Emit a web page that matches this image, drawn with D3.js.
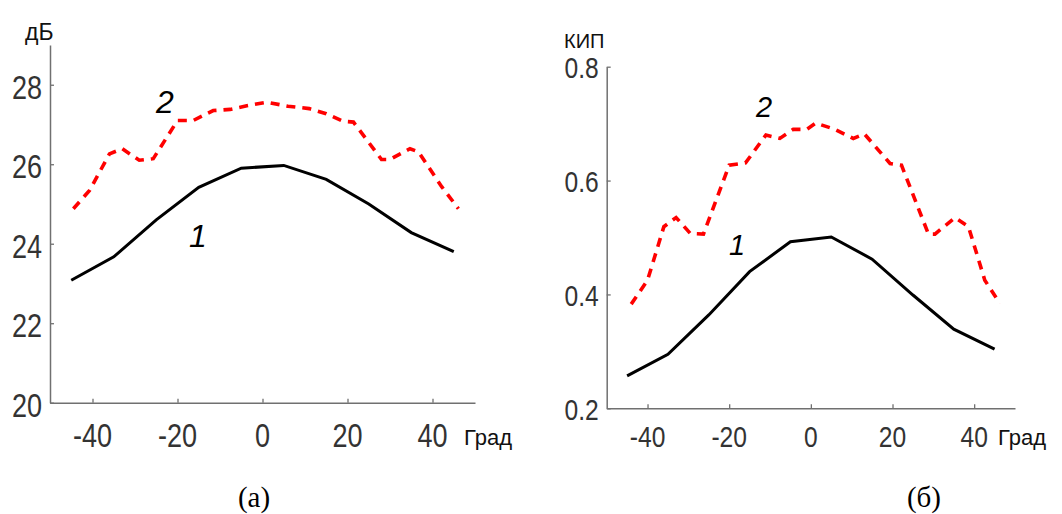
<!DOCTYPE html>
<html>
<head>
<meta charset="utf-8">
<script src="https://cdn.jsdelivr.net/npm/d3@7"></script>
<style>
  body { margin: 0; background: #fff; }
  svg { display: block; }
</style>
</head>
<body>
<svg id="chart" width="1062" height="514"></svg>
<script>
'use strict';

// углы для кривых 1 (шаг 10 град)
var angles = [-45, -35, -25, -15, -5, 5, 15, 25, 35, 45];

// (а) усиление, дБ
var gainCurve1 = [23.08, 23.67, 24.6, 25.42, 25.9, 25.97, 25.62, 25.0, 24.28, 23.8];
var gainAngles2 = [-44.5, -40.7, -36, -33, -29, -25.7, -20, -16.3, -11.6, -7.6, -3.7, 1, 6, 11, 15, 19, 21.4, 28, 30, 34.7, 36.7, 42.2, 46.1];
var gainCurve2 = [24.88, 25.34, 26.26, 26.39, 26.1, 26.14, 27.1, 27.1, 27.35, 27.38, 27.47, 27.56, 27.46, 27.4, 27.27, 27.08, 27.06, 26.12, 26.12, 26.39, 26.31, 25.43, 24.88];

// (б) КИП
var kipCurve1 = [0.257, 0.295, 0.364, 0.44, 0.4925, 0.501, 0.462, 0.399, 0.339, 0.304];
var kipAngles2 = [-44, -40, -36, -33, -29.5, -26.3, -20, -16, -11, -7.6, -4.3, -1, 1.2, 5.9, 10.4, 13.1, 19.4, 22.2, 28.8, 30.4, 35.3, 38.6, 42.6, 46.3];
var kipCurve2 = [0.383, 0.425, 0.519, 0.535, 0.507, 0.506, 0.627, 0.631, 0.68, 0.674, 0.69, 0.69, 0.701, 0.69, 0.674, 0.682, 0.63, 0.627, 0.506, 0.506, 0.535, 0.519, 0.425, 0.384];

var xTicks = [-40, -20, 0, 20, 40];
var gainTicks = [20, 22, 24, 26, 28];
var kipTicks = [0.2, 0.4, 0.6, 0.8];
var kipTickLabels = ['0.2', '0.4', '0.6', '0.8'];

var svg = d3.select('#chart');
var tickColor = '#333';
var axisColor = '#707070';
var narrow = 0.82;

function drawPanel(cfg) {
  var g = svg.append('g');
  var x = d3.scaleLinear().domain([-50, 50]).range([cfg.left, cfg.right]);
  var y = d3.scaleLinear().domain(cfg.yDomain).range([cfg.bottom, cfg.top]);

  // оси (засечки внутрь)
  var yAxis = g.append('g')
    .attr('transform', 'translate(' + cfg.left + ',0)')
    .call(d3.axisLeft(y).tickValues(cfg.yTicks).tickSizeInner(-4).tickSizeOuter(0).tickFormat(''));
  var xAxis = g.append('g')
    .attr('transform', 'translate(0,' + cfg.bottom + ')')
    .call(d3.axisBottom(x).tickValues(xTicks).tickSizeInner(-4).tickSizeOuter(0).tickFormat(''));
  [yAxis, xAxis].forEach(function(a) {
    a.select('.domain').attr('stroke', axisColor).attr('stroke-width', 1.5);
    a.selectAll('.tick line').attr('stroke', axisColor).attr('stroke-width', 1.3);
  });

  // подписи делений (узкий шрифт)
  g.append('g').selectAll('text')
    .data(cfg.yTicks)
    .enter().append('text')
    .attr('transform', function(d) {
      return 'translate(' + (cfg.left - 8) + ',' + (y(d) + cfg.yLabelDy) + ') scale(' + narrow + ',1)';
    })
    .attr('text-anchor', 'end')
    .style('font-family', 'Liberation Sans, Arial, sans-serif')
    .style('font-size', cfg.tickFont + 'px')
    .style('fill', tickColor)
    .text(function(d, i) { return cfg.yTickLabels[i]; });

  g.append('g').selectAll('text')
    .data(xTicks)
    .enter().append('text')
    .attr('transform', function(d) {
      return 'translate(' + x(d) + ',447) scale(' + narrow + ',1)';
    })
    .attr('text-anchor', 'middle')
    .style('font-family', 'Liberation Sans, Arial, sans-serif')
    .style('font-size', cfg.tickFont + 'px')
    .style('fill', tickColor)
    .text(function(d) { return String(d); });

  // кривая 1 — сплошная чёрная
  var line1 = d3.line()
    .x(function(d, i) { return x(angles[i]); })
    .y(function(d) { return y(d); });
  g.append('path')
    .datum(cfg.curve1)
    .attr('d', line1)
    .attr('fill', 'none')
    .attr('stroke', '#000')
    .attr('stroke-width', 3);

  // кривая 2 — красный пунктир
  var line2 = d3.line()
    .x(function(d, i) { return x(cfg.angles2[i]); })
    .y(function(d) { return y(d); });
  g.append('path')
    .datum(cfg.curve2)
    .attr('d', line2)
    .attr('fill', 'none')
    .attr('stroke', '#ff0000')
    .attr('stroke-width', 3.6)
    .attr('stroke-dasharray', '9,7');

  // подписи
  var sans = 'Liberation Sans, Arial, sans-serif';
  g.append('text').attr('x', cfg.unitX).attr('y', cfg.unitY)
    .style('font-family', sans).style('font-size', cfg.unitFont + 'px').style('fill', '#111')
    .text(cfg.unit);
  g.append('text').attr('x', cfg.gradX).attr('y', 445)
    .style('font-family', sans).style('font-size', '22px').style('fill', '#111')
    .text('Град');
  g.append('text').attr('x', cfg.lab2[0]).attr('y', cfg.lab2[1])
    .style('font-family', sans).style('font-style', 'italic').style('font-size', cfg.labFont + 'px')
    .text('2');
  g.append('text').attr('x', cfg.lab1[0]).attr('y', cfg.lab1[1])
    .style('font-family', sans).style('font-style', 'italic').style('font-size', cfg.labFont + 'px')
    .text('1');
  g.append('text').attr('x', cfg.captionX).attr('y', 507)
    .attr('text-anchor', 'middle')
    .style('font-family', 'Liberation Serif, Times New Roman, serif').style('font-size', '29px')
    .text(cfg.caption);
}

drawPanel({
  left: 50, right: 475, top: 45, bottom: 402.7,
  yDomain: [20, 29], yTicks: gainTicks, yTickLabels: gainTicks.map(String),
  yLabelDy: 14, tickFont: 33,
  curve1: gainCurve1, angles2: gainAngles2, curve2: gainCurve2,
  unit: 'дБ', unitX: 25, unitY: 40, unitFont: 23,
  gradX: 464, lab2: [156, 113], lab1: [189, 247], labFont: 32,
  captionX: 254, caption: '(а)'
});

drawPanel({
  left: 606.7, right: 1015, top: 66.7, bottom: 408.3,
  yDomain: [0.2, 0.8], yTicks: kipTicks, yTickLabels: kipTickLabels,
  yLabelDy: 11.5, tickFont: 30,
  curve1: kipCurve1, angles2: kipAngles2, curve2: kipCurve2,
  unit: 'КИП', unitX: 564, unitY: 48, unitFont: 20,
  gradX: 998, lab2: [756, 117], lab1: [729, 255], labFont: 29,
  captionX: 924, caption: '(б)'
});
</script>
</body>
</html>
